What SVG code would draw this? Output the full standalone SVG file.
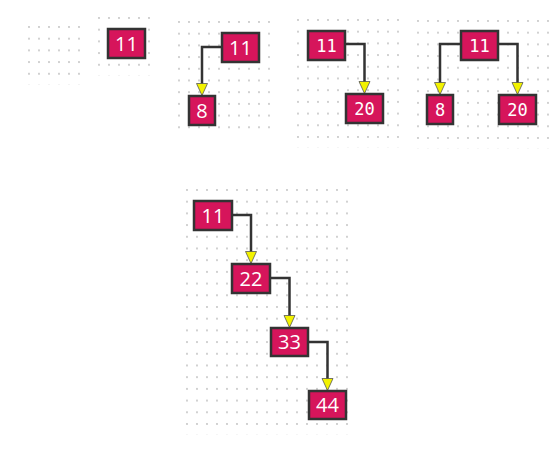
<svg xmlns="http://www.w3.org/2000/svg" width="557" height="454" viewBox="0 0 557 454">
<style>
.node rect{fill:#d6155b;stroke:#333;stroke-width:2.5}
.node text{fill:#fff;text-anchor:middle}
.sans text{font-family:"Open Sans","Noto Sans",sans-serif;font-size:20px}
.mono text{font-family:"DejaVu Sans Mono","Liberation Mono",monospace;font-size:17px}
.edge{fill:none;stroke:#333;stroke-width:2.5;marker-end:url(#arr)}
</style>
<defs>
<pattern id="dots" patternUnits="userSpaceOnUse" width="10" height="11.7">
<circle cx="1" cy="1" r="0.9" fill="#bcbcbc"/>
</pattern>
<marker id="arr" markerUnits="userSpaceOnUse" markerWidth="14" markerHeight="13" refX="0.5" refY="5.5" orient="auto" viewBox="-1 -1 14 13">
<path d="M0,0 L12,5.5 L0,11 Z" fill="#f2f200" stroke="#555" stroke-width="0.8"/>
</marker>
</defs>
<rect width="557" height="454" fill="#fff"/>
<g id="grids">
<g transform="translate(28,26)"><rect width="60" height="58.5" fill="url(#dots)"/></g>
<g transform="translate(98,17)"><rect width="60" height="58.5" fill="url(#dots)"/></g>
<g transform="translate(178,21)"><rect width="100" height="117" fill="url(#dots)"/></g>
<g transform="translate(297,19)"><rect width="110" height="128.7" fill="url(#dots)"/></g>
<g transform="translate(417,20)"><rect width="140" height="128.7" fill="url(#dots)"/></g>
<g transform="translate(186,189)"><rect width="170" height="245.7" fill="url(#dots)"/></g>
</g>
<g id="connectors">
<path class="edge" d="M222,47 H202 V84"/>
<path class="edge" d="M345,44 H364.5 V82"/>
<path class="edge" d="M461,44 H440 V83"/>
<path class="edge" d="M498,44 H517.5 V83"/>
<path class="edge" d="M232,215 H251 V252"/>
<path class="edge" d="M270,278 H289.5 V316"/>
<path class="edge" d="M308,342 H327.5 V379"/>
</g>
<g id="p2-n11" class="node sans"><rect x="108" y="29" width="37" height="29"/><text x="126.5" y="50.5">11</text></g>
<g id="p3-n11" class="node sans"><rect x="222" y="33" width="37" height="29"/><text x="240.5" y="54.5">11</text></g>
<g id="p3-n8" class="node sans"><rect x="189" y="96" width="26" height="29"/><text x="202" y="117.5">8</text></g>
<g id="p4-n11" class="node mono"><rect x="308" y="31" width="37" height="29"/><text x="326.5" y="52">11</text></g>
<g id="p4-n20" class="node mono"><rect x="346" y="94" width="37" height="29"/><text x="364.5" y="115">20</text></g>
<g id="p5-n11" class="node mono"><rect x="461" y="31" width="37" height="29"/><text x="479.5" y="52">11</text></g>
<g id="p5-n8" class="node mono"><rect x="427" y="95" width="26" height="29"/><text x="440" y="116">8</text></g>
<g id="p5-n20" class="node mono"><rect x="499" y="95" width="37" height="29"/><text x="517.5" y="116">20</text></g>
<g id="t-n11" class="node sans"><rect x="194" y="201" width="38" height="29"/><text x="213" y="222.5">11</text></g>
<g id="t-n22" class="node sans"><rect x="232" y="264" width="38" height="29"/><text x="251" y="285.5">22</text></g>
<g id="t-n33" class="node sans"><rect x="271" y="328" width="37" height="28"/><text x="289.5" y="349">33</text></g>
<g id="t-n44" class="node sans"><rect x="309" y="391" width="37" height="28"/><text x="327.5" y="412">44</text></g>
</svg>
